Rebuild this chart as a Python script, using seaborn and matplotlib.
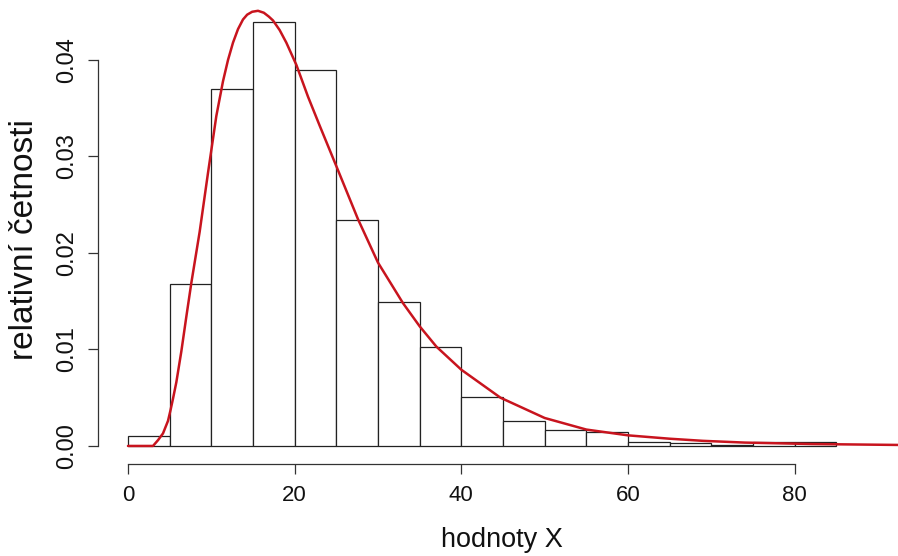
import numpy as np
import pandas as pd
import matplotlib
matplotlib.use("Agg")
import matplotlib.pyplot as plt
import seaborn as sns

# ---- data ----
bin_edges = [0, 5, 10, 15, 20, 25, 30, 35, 40, 45, 50, 55, 60, 65, 70, 75, 80, 85]
rel_freq = [0.0010, 0.0168, 0.0370, 0.0439, 0.0390, 0.0234, 0.0149, 0.0103,
            0.0051, 0.0026, 0.0017, 0.0014, 0.00045, 0.0003, 0.0001, 0.0004, 0.0004]

curve_x = [0, 3.0, 3.6, 4.2, 4.8, 5.1, 5.4, 5.8, 6.4, 7.0, 7.6, 8.6, 9.6, 10.6, 11.4,
           12.0, 12.6, 13.2, 13.8, 14.3, 14.9, 15.6, 16.3, 16.9, 17.4, 18.2, 19.0,
           20.2, 21.6, 23.0, 25.0, 27.6, 30.0, 33.0, 35.0, 37.0, 40.0, 44.7, 50.0,
           55.0, 60.0, 65.0, 69.0, 74.0, 82.0, 93.0]
curve_y = [0, 0, 0.0006, 0.0013, 0.0026, 0.0037, 0.0049, 0.0066, 0.0098, 0.0134,
           0.0169, 0.0222, 0.0283, 0.0342, 0.0378, 0.0400, 0.0418, 0.0432, 0.0442,
           0.0447, 0.0450, 0.0451, 0.0449, 0.0445, 0.0441, 0.0431, 0.0418, 0.0395,
           0.0362, 0.0332, 0.0290, 0.0235, 0.0190, 0.0148, 0.0124, 0.0103, 0.0079,
           0.0050, 0.0029, 0.0017, 0.0011, 0.00075, 0.00053, 0.00035, 0.0002, 0.0001]

x_ticks = [0, 20, 40, 60, 80]
y_ticks = [0.00, 0.01, 0.02, 0.03, 0.04]
y_tick_labels = ["0.00", "0.01", "0.02", "0.03", "0.04"]
x_label = "hodnoty X"
y_label = "relativní četnosti"

# ---- styling ----
sns.set_theme(style="white")
plt.rcParams["font.family"] = ["Liberation Sans", "DejaVu Sans"]

W, H = 898, 556
fig = plt.figure(figsize=(W / 100, H / 100), dpi=100)
ax = fig.add_axes([98 / W, (H - 464) / H, (W - 98) / W, 464 / H])

centers = [(a + b) / 2 for a, b in zip(bin_edges[:-1], bin_edges[1:])]
df = pd.DataFrame({"x": centers, "w": rel_freq})
sns.histplot(data=df, x="x", weights="w", bins=bin_edges, stat="count",
             color="white", edgecolor="#222222", linewidth=0.9, alpha=1.0, ax=ax)

cdf = pd.DataFrame({"x": curve_x, "y": curve_y})
sns.lineplot(data=cdf, x="x", y="y", color="#c8141e", linewidth=1.8, ax=ax,
             zorder=5, clip_on=True)
for ln in ax.lines:
    ln.set_solid_joinstyle("round")

ax.set_xlim(-3.6, 92.4)
ax.set_ylim(-0.00187, 0.04622)

for s in ["top", "right"]:
    ax.spines[s].set_visible(False)
for s in ["left", "bottom"]:
    ax.spines[s].set_color("#333333")
    ax.spines[s].set_linewidth(0.9)
ax.spines["bottom"].set_bounds(0, 80)
ax.spines["left"].set_bounds(0, 0.04)

ax.set_xticks(x_ticks)
ax.set_xticklabels([str(t) for t in x_ticks])
ax.set_yticks(y_ticks)
ax.set_yticklabels(y_tick_labels)
ax.tick_params(axis="x", direction="out", length=7.2, width=0.9, color="#333333",
               labelsize=16, pad=8, bottom=True, labelcolor="#111111")
ax.tick_params(axis="y", direction="out", length=7.2, width=0.9, color="#333333",
               labelsize=17, pad=7, left=True, labelrotation=90, labelcolor="#111111")
for lab in ax.get_yticklabels():
    lab.set_va("center")

ax.set_xlabel("")
ax.set_ylabel("")
fig.text(502 / W, 1 - 547 / H, x_label, ha="center", va="baseline", fontsize=19.5,
         color="#111111")
fig.text(25 / W, 1 - 240 / H, y_label, ha="center", va="center", rotation=90,
         fontsize=24, color="#111111")

fig.savefig("out.png", dpi=100, facecolor="white")
